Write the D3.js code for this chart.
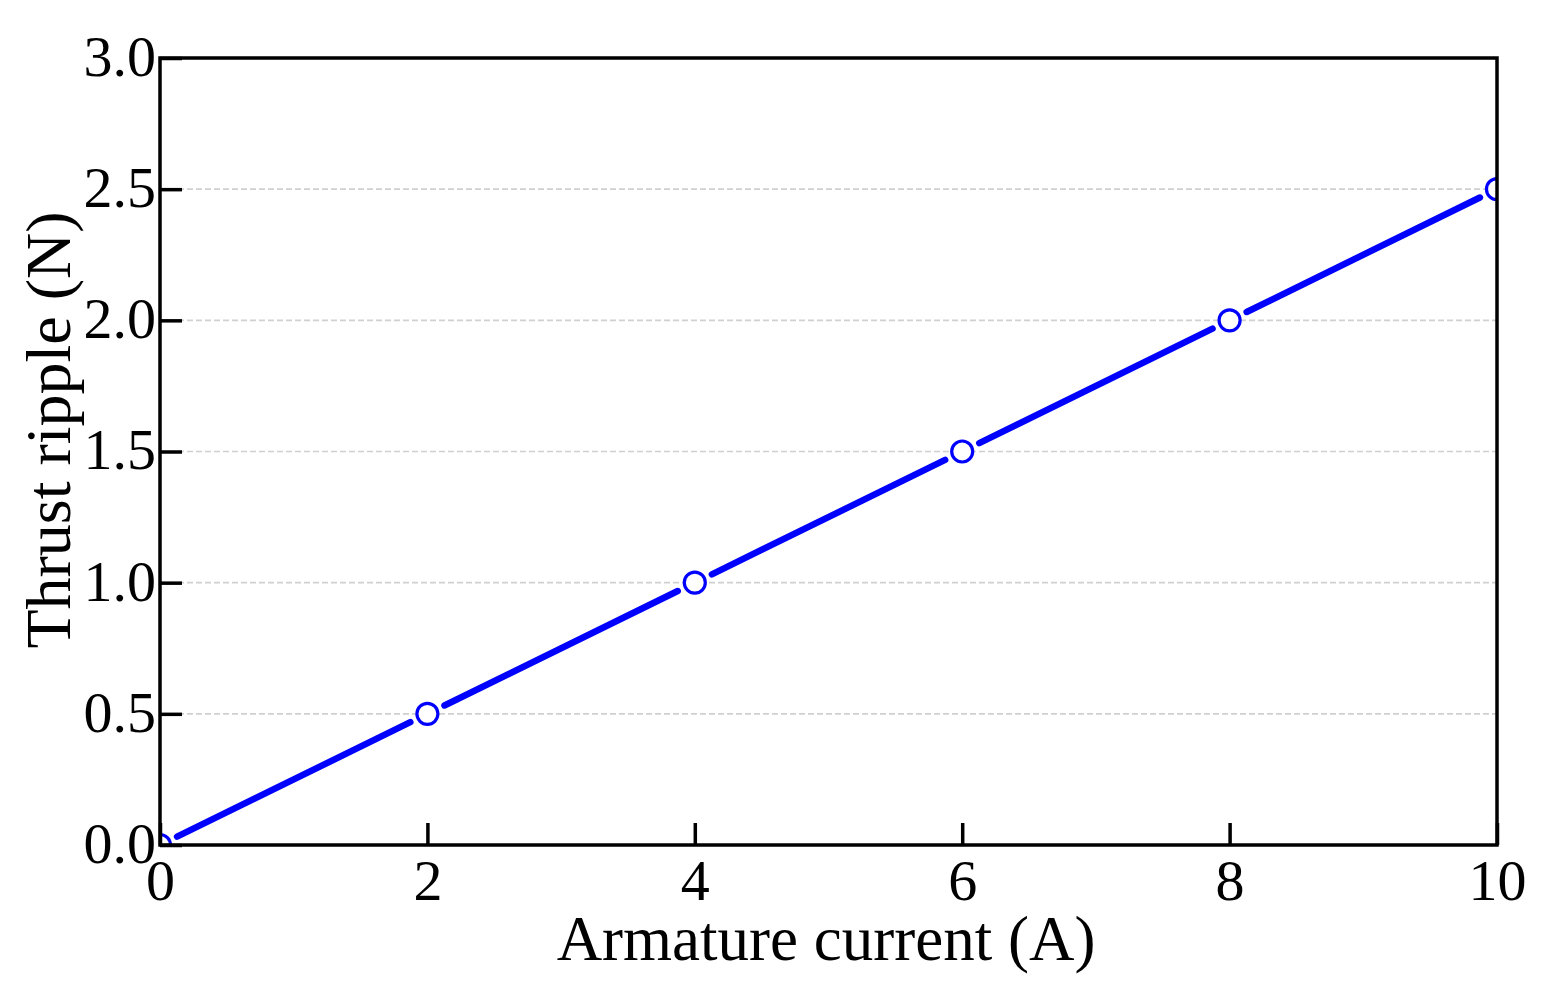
<!DOCTYPE html>
<html>
<head>
<meta charset="utf-8">
<script src="https://cdn.jsdelivr.net/npm/d3@7"></script>
<style>
  body { margin: 0; background: #fff; }
  svg text { font-family: "Liberation Serif", "DejaVu Serif", serif; fill: #000; }
</style>
</head>
<body>
<svg id="chart" width="1542" height="987"></svg>
<script>
// data
var current = [0, 2, 4, 6, 8, 10];
var ripple = [0, 0.5, 1.0, 1.5, 2.0, 2.5];
var xTicks = [0, 2, 4, 6, 8, 10];
var yTicks = [0, 0.5, 1.0, 1.5, 2.0, 2.5, 3.0];

var plotLeft = 160, plotRight = 1497, plotTop = 58, plotBottom = 845;
var svg = d3.select("#chart");

var x = d3.scaleLinear().domain([0, 10]).range([plotLeft, plotRight]);
var y = d3.scaleLinear().domain([0, 3]).range([plotBottom, plotTop]);

svg.append("defs").append("clipPath").attr("id", "plotClip")
    .append("rect")
    .attr("x", plotLeft).attr("y", plotTop)
    .attr("width", plotRight - plotLeft).attr("height", plotBottom - plotTop);

// grid
svg.append("g").selectAll("line")
    .data(yTicks.filter(function (d) { return d > 0 && d < 3; }))
    .enter().append("line")
    .attr("x1", plotLeft).attr("x2", plotRight)
    .attr("y1", function (d) { return y(d); })
    .attr("y2", function (d) { return y(d); })
    .attr("stroke", "#d0d0d0")
    .attr("stroke-width", 1.6)
    .attr("stroke-dasharray", "6,3");

var plot = svg.append("g").attr("clip-path", "url(#plotClip)");

// line drawn as segments, stopping short of each marker
var pts = current.map(function (d, i) { return [x(d), y(ripple[i])]; });
var gap = 19;
var segs = [];
for (let i = 0; i < pts.length - 1; i++) {
    let a = pts[i], b = pts[i + 1];
    let dx = b[0] - a[0], dy = b[1] - a[1];
    let len = Math.sqrt(dx * dx + dy * dy);
    let ux = dx / len, uy = dy / len;
    segs.push([a[0] + ux * gap, a[1] + uy * gap, b[0] - ux * gap, b[1] - uy * gap]);
}
plot.selectAll(".seg")
    .data(segs)
    .enter().append("line")
    .attr("class", "seg")
    .attr("x1", function (d) { return d[0]; })
    .attr("y1", function (d) { return d[1]; })
    .attr("x2", function (d) { return d[2]; })
    .attr("y2", function (d) { return d[3]; })
    .attr("stroke", "#0000ff")
    .attr("stroke-width", 6.5)
    .attr("stroke-linecap", "round");

plot.selectAll(".dot")
    .data(current)
    .enter().append("circle")
    .attr("class", "dot")
    .attr("cx", function (d) { return x(d); })
    .attr("cy", function (d, i) { return y(ripple[i]); })
    .attr("r", 10.5)
    .attr("fill", "#fff")
    .attr("stroke", "#0000ff")
    .attr("stroke-width", 3.2);

// axes
var xAxis = d3.axisBottom(x).tickValues(xTicks).tickSizeInner(-22).tickSizeOuter(0)
    .tickPadding(14).tickFormat(d3.format("d"));
var yAxis = d3.axisLeft(y).tickValues(yTicks).tickSizeInner(-22).tickSizeOuter(0)
    .tickPadding(6).tickFormat(d3.format(".1f"));

var gx = svg.append("g").attr("transform", "translate(0," + plotBottom + ")").call(xAxis);
var gy = svg.append("g").attr("transform", "translate(" + plotLeft + ",0)").call(yAxis);
[gx, gy].forEach(function (g) {
    g.select(".domain").remove();
    g.selectAll(".tick line").attr("stroke", "#000").attr("stroke-width", 3.5);
    g.selectAll(".tick text").style("font-size", "58px").attr("fill", "#000");
});
gx.selectAll(".tick text").attr("dy", "0.71em");
gy.selectAll(".tick text").attr("dy", "0.3em").attr("x", -4);

// frame
svg.append("rect")
    .attr("x", plotLeft).attr("y", plotTop)
    .attr("width", plotRight - plotLeft).attr("height", plotBottom - plotTop)
    .attr("fill", "none").attr("stroke", "#000").attr("stroke-width", 3.5);

svg.append("text")
    .attr("x", 826).attr("y", 960)
    .attr("text-anchor", "middle")
    .style("font-size", "63px")
    .text("Armature current (A)");

svg.append("text")
    .attr("transform", "translate(70,430) rotate(-90)")
    .attr("text-anchor", "middle")
    .style("font-size", "64px")
    .text("Thrust ripple (N)");
</script>
</body>
</html>
